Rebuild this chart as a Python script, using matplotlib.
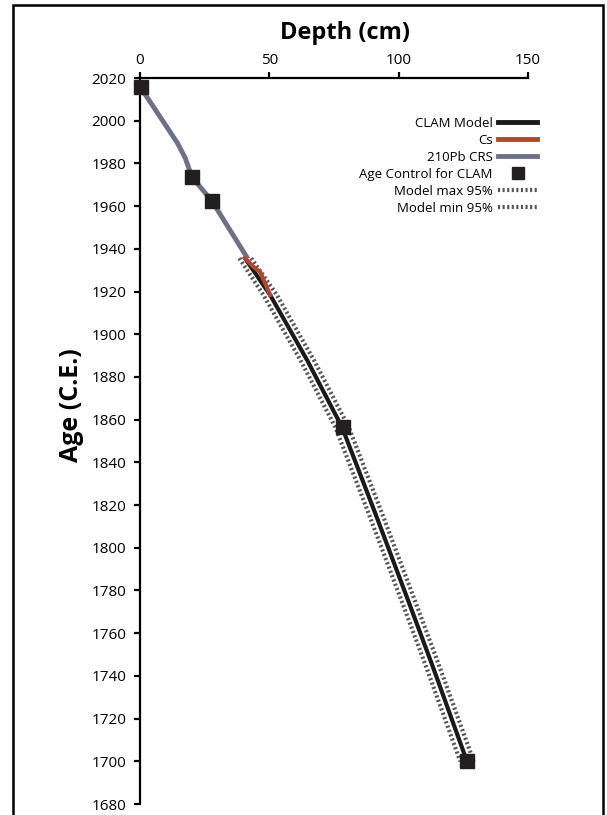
import matplotlib
matplotlib.use('Agg')
import matplotlib.pyplot as plt
from matplotlib.lines import Line2D
from matplotlib.patches import Rectangle

plt.rcParams['font.family'] = ['Open Sans', 'DejaVu Sans']

# 210Pb CRS chronology (depth cm, age C.E.)
pb_depth = [0.0, 14.5, 17.5, 20.1, 27.8, 41.2]
pb_age = [2016.0, 1989.5, 1982.5, 1973.6, 1962.4, 1936.3]

# Cs section
cs_depth = [40.6, 43.8, 46.4, 50.3]
cs_age = [1935.6, 1931.6, 1929.3, 1918.4]

# CLAM age-depth model
clam_depth = [40.6, 50.3, 64.6, 78.1, 91.0, 103.6, 113.3, 126.4]
clam_age = [1935.6, 1918.4, 1887.9, 1856.5, 1816.0, 1775.5, 1744.0, 1700.0]

# 95% envelope (depth at the same ages)
max_depth = [43.0, 52.9, 67.2, 80.7, 93.6, 106.2, 115.9, 129.0]
min_depth = [38.4, 47.7, 62.0, 75.5, 88.4, 101.0, 110.7, 123.8]

# Age control points used by CLAM
ctrl_depth = [0.4, 20.1, 27.8, 78.5, 126.4]
ctrl_age = [2015.8, 1973.6, 1962.4, 1856.5, 1700.1]

fig = plt.figure(figsize=(6.07, 8.15), dpi=100)
ax = fig.add_axes([140 / 607, 1 - 804 / 815, 388 / 607, 726 / 815])

dot = dict(color='#555555', lw=3.0, linestyle=(0, (0.5, 0.6)))
ax.plot(max_depth, clam_age, **dot, zorder=2)
ax.plot(min_depth, clam_age, **dot, zorder=2)
ax.plot(clam_depth, clam_age, color='#1a1a1a', lw=3, zorder=3)
ax.plot(pb_depth, pb_age, color='#6e7088', lw=3.5, zorder=3)
ax.plot(cs_depth, cs_age, color='#b5452e', lw=3, zorder=4)
ax.plot(ctrl_depth, ctrl_age, 's', color='#231f20', ms=9.5, zorder=5,
        clip_on=False)

ax.set_xlim(0, 150)
ax.set_ylim(1680, 2020)
ax.set_xticks([0, 50, 100, 150])
ax.set_yticks(range(1680, 2021, 20))
ax.xaxis.tick_top()
ax.spines['right'].set_visible(False)
ax.spines['bottom'].set_visible(False)
for s in ('top', 'left'):
    ax.spines[s].set_linewidth(1.6)
ax.tick_params(axis='both', direction='out', length=4, width=1.6,
               labelsize=11, pad=6)
ax.tick_params(axis='x', pad=3)

fig.text(345 / 607, 1 - 33 / 815, 'Depth (cm)', fontsize=17,
         fontweight='bold', ha='center', va='center')
fig.text(72 / 607, 1 - 405 / 815, 'Age (C.E.)', fontsize=18,
         fontweight='bold', ha='center', va='center', rotation=90)

handles = [
    Line2D([], [], color='#1a1a1a', lw=3.5),
    Line2D([], [], color='#b5452e', lw=3.5),
    Line2D([], [], color='#6e7088', lw=3.5),
    Line2D([], [], color='#231f20', marker='s', ls='none', ms=8),
    Line2D([], [], **dot),
    Line2D([], [], **dot),
]
labels = ['CLAM Model', 'Cs', '210Pb CRS', 'Age Control for CLAM',
          'Model max 95%', 'Model min 95%']
leg = ax.legend(handles, labels, loc='upper right', bbox_to_anchor=(1.055, 0.963),
                frameon=False, markerfirst=False, fontsize=9.5,
                handlelength=3.0, handletextpad=0.4, labelspacing=0.3)

# page frame
fig.patches.append(Rectangle((13 / 607, -0.02), 590 / 607, 1 - 5 / 815 + 0.02,
                             transform=fig.transFigure, fill=False,
                             edgecolor='black', lw=1.8))

fig.savefig('out.png', dpi=100)
